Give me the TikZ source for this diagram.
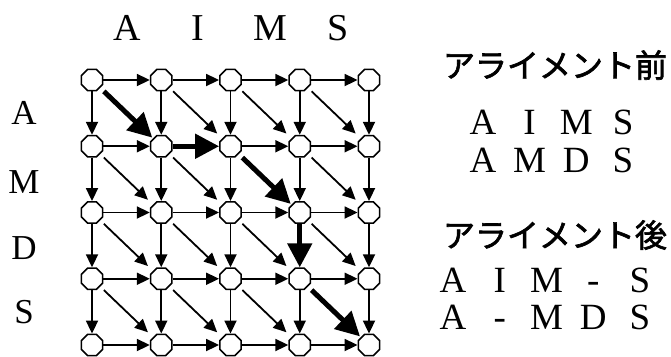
\documentclass[tikz,border=0pt]{standalone}
\usepackage{fontspec}
\setmainfont{Liberation Serif}
\newfontfamily\cjk[FakeBold=2]{Noto Sans CJK JP}
\usetikzlibrary{shapes.geometric,arrows.meta}
\begin{document}
\begin{tikzpicture}[x=1pt,y=-1pt,
  vtx/.style={draw, line width=1.6pt, fill=white, regular polygon, regular polygon sides=8, minimum size=23pt, inner sep=0pt},
  tarr/.style={line width=1.8pt, -{Triangle[length=13pt,width=12pt]}},
  barr/.style={line width=5pt, -{Triangle[length=24pt,width=24pt]}},
  dg/.style={shorten <=5pt, shorten >=7pt},
  bdg/.style={shorten <=5pt, shorten >=1pt},
  lab/.style={font=\fontsize{38}{40}\selectfont, inner sep=0pt},
  llab/.style={font=\fontsize{35}{38}\selectfont, inner sep=0pt},
  seq/.style={font=\fontsize{37}{40}\selectfont, inner sep=0pt},
  jp/.style={font=\cjk\fontsize{32}{34}\selectfont, inner sep=0pt},
]
\useasboundingbox (0,0) rectangle (671,356);
% grid nodes
\foreach \i in {0,...,4} \foreach \j in {0,...,4}
  \node[vtx] (n\i\j) at (92+69.25*\i, 80+66.25*\j) {};
% horizontal arrows
\foreach \i/\k in {0/1,1/2,2/3,3/4} \foreach \j in {0,...,4} {
  \ifnum\i\j=11 \else \draw[tarr] (n\i\j) -- (n\k\j); \fi
}
% vertical arrows
\foreach \j/\k in {0/1,1/2,2/3,3/4} \foreach \i in {0,...,4} {
  \ifnum\i\j=32 \else \draw[tarr] (n\i\j) -- (n\i\k); \fi
}
% diagonal arrows
\foreach \a/\b in {10/21,20/31,30/41,01/12,11/22,31/42,02/13,12/23,22/33,32/43,03/14,13/24,23/34}
  \draw[tarr,dg] (n\a) -- (n\b);
% alignment path
\draw[barr,bdg] (n00) -- (n11);
\draw[barr] (n11) -- (n21);
\draw[barr,bdg] (n21) -- (n32);
\draw[barr] (n32) -- (n33);
\draw[barr,bdg] (n33) -- (n44);
% top labels
\node[lab] (cA) at (127,28) {A};
\node[lab] (cI) at (198,28) {I};
\node[lab] (cM) at (270,28) {M};
\node[lab] (cS) at (338,28) {S};
% left labels
\node[llab] (rA) at (24,113) {A};
\node[llab] (rM) at (24,182) {M};
\node[llab] (rD) at (24,248) {D};
\node[llab] (rS) at (24,312) {S};
% right texts
\node[jp] (before) at (555,65) {アライメント前};
\node[seq] (b1) at (553,122) {\makebox[46.7pt]{A}\makebox[46.7pt]{I}\makebox[46.7pt]{M}\makebox[46.7pt]{S}};
\node[seq] (b2) at (553,160) {\makebox[46.7pt]{A}\makebox[46.7pt]{M}\makebox[46.7pt]{D}\makebox[46.7pt]{S}};
\node[jp] (after) at (555,235) {アライメント後};
\node[seq] (a1) at (546.5,280) {\makebox[46.75pt]{A}\makebox[46.75pt]{I}\makebox[46.75pt]{M}\makebox[46.75pt]{-}\makebox[46.75pt]{S}};
\node[seq] (a2) at (546.5,317) {\makebox[46.75pt]{A}\makebox[46.75pt]{-}\makebox[46.75pt]{M}\makebox[46.75pt]{D}\makebox[46.75pt]{S}};
\end{tikzpicture}
\end{document}
